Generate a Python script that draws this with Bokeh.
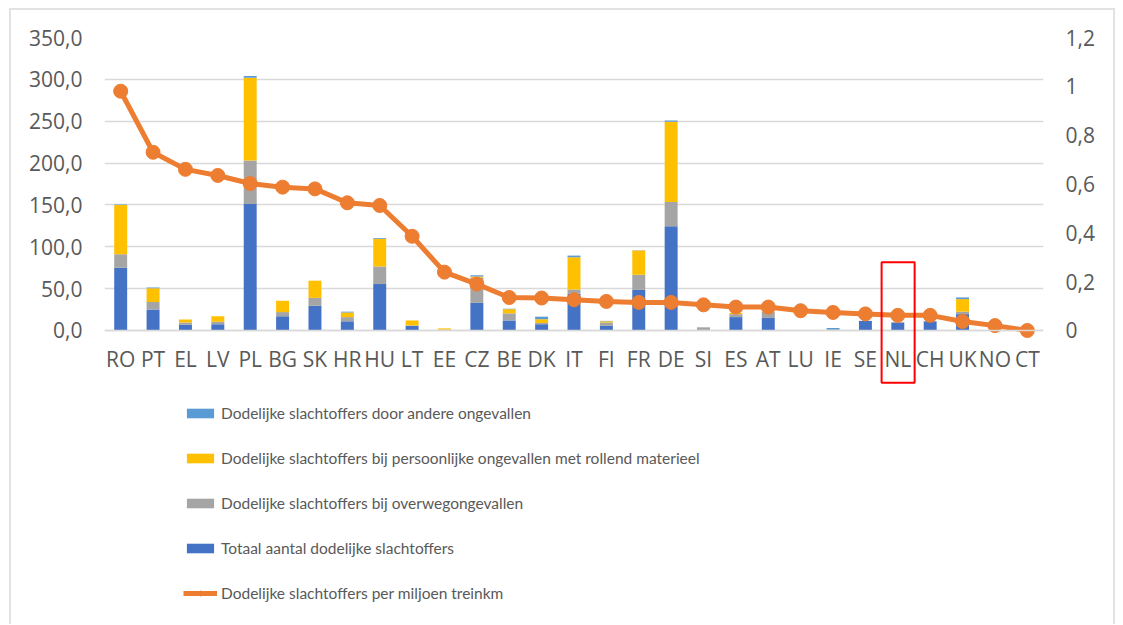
from bokeh.plotting import figure
from bokeh.models import (Range1d, LinearAxis, CategoricalAxis, FixedTicker, Legend,
                          LegendItem, BoxAnnotation, ColumnDataSource)
from bokeh.embed import file_html
from bokeh.resources import INLINE

countries = ["RO", "PT", "EL", "LV", "PL", "BG", "SK", "HR", "HU", "LT", "EE", "CZ",
             "BE", "DK", "IT", "FI", "FR", "DE", "SI", "ES", "AT", "LU", "IE", "SE",
             "NL", "CH", "UK", "NO", "CT"]
totaal = [75, 25, 7, 7.5, 151, 17, 29.5, 11, 55.5, 5.5, 0, 33,
          12, 7.5, 44, 5.5, 48.5, 124.5, 0.3, 16, 15, 0.3, 0, 11.5,
          9.5, 11, 19.5, 0, 0]
overweg = [16, 9, 2.5, 3, 52, 5, 9.5, 5, 21, 0.5, 1, 30,
           8.5, 1.5, 5, 4, 18, 29, 3.5, 3.5, 7.5, 0, 0.5, 0,
           0.5, 0, 3, 0, 0]
persoonlijk = [59, 16.5, 3.5, 6.5, 99, 13.5, 20.5, 5.5, 33, 6, 1.5, 1.5,
               5, 4.5, 38.5, 1.5, 29, 96, 0, 1.5, 0, 0, 0.5, 0,
               0, 0, 15, 0, 0]
andere = [0.5, 1, 0, 0, 2, 0, 0, 1, 1, 0, 0, 1.5,
          0.5, 3, 2, 0.5, 0.5, 1.5, 0, 0, 0, 0, 2, 0,
          0, 0, 2, 0, 0]
per_miljoen = [0.98, 0.73, 0.66, 0.635, 0.602, 0.587, 0.58, 0.523, 0.512, 0.386, 0.239, 0.19,
               0.135, 0.133, 0.126, 0.119, 0.115, 0.115, 0.105, 0.096, 0.096, 0.081, 0.074, 0.068,
               0.062, 0.062, 0.037, 0.02, 0.0]

left_ticks = [0, 50, 100, 150, 200, 250, 300, 350]
left_tick_labels = ["0,0", "50,0", "100,0", "150,0", "200,0", "250,0", "300,0", "350,0"]
right_ticks = [0, 0.2, 0.4, 0.6, 0.8, 1.0, 1.2]
right_tick_labels = ["0", "0,2", "0,4", "0,6", "0,8", "1", "1,2"]

series_names = ["Totaal aantal dodelijke slachtoffers",
                "Dodelijke slachtoffers bij overwegongevallen",
                "Dodelijke slachtoffers bij persoonlijke ongevallen met rollend materieel",
                "Dodelijke slachtoffers door andere ongevallen"]
line_name = "Dodelijke slachtoffers per miljoen treinkm"
highlight = "NL"

colors = ["#4472C4", "#A5A5A5", "#FFC000", "#5B9BD5"]
orange = "#ED7D31"
text_color = "#595959"
grid_color = "#d9d9d9"

# layout (screen pixels)
W, H = 1106, 616
FRAME_TOP, ZERO_Y, FRAME_BOTTOM = 37, 329, 8 + H
px_per_unit = (ZERO_Y - FRAME_TOP) / 350.0
y_min = -(FRAME_BOTTOM - ZERO_Y) / px_per_unit
r_scale = 1.2 / 350.0

src = ColumnDataSource(dict(country=countries, totaal=totaal, overweg=overweg,
                            persoonlijk=persoonlijk, andere=andere, rate=per_miljoen))

p = figure(x_range=countries, y_range=Range1d(y_min, 350), width=W, height=H,
           output_backend="svg", toolbar_location=None, x_axis_location=None,
           min_border_left=93, min_border_right=74, min_border_top=27, min_border_bottom=0)
p.extra_y_ranges = {"rate": Range1d(y_min * r_scale, 1.2)}
p.outline_line_color = None
p.styles = {"margin-left": "9px", "margin-top": "8px",
            "border-top": "2px solid #e2e2e2", "border-left": "2px solid #e2e2e2",
            "border-right": "2px solid #e2e2e2"}

bars = p.vbar_stack(["totaal", "overweg", "persoonlijk", "andere"], x="country", width=0.4,
                    color=colors, line_color=None, source=src)
ln = p.line(x="country", y="rate", y_range_name="rate", color=orange, line_width=5, source=src)
sc = p.scatter(x="country", y="rate", y_range_name="rate", color=orange, size=14, source=src)

# axes
p.yaxis.ticker = FixedTicker(ticks=left_ticks)
p.yaxis.major_label_overrides = dict(zip(left_ticks, left_tick_labels))
ra = LinearAxis(y_range_name="rate", ticker=FixedTicker(ticks=right_ticks),
                major_label_overrides=dict(zip(right_ticks, right_tick_labels)))
p.add_layout(ra, "right")
for ax in [p.yaxis[0], ra]:
    ax.axis_line_color = None
    ax.major_tick_line_color = None
    ax.minor_tick_line_color = None
    ax.major_tick_out = 0
    ax.major_tick_in = 0
    ax.major_label_text_font = "Open Sans"
    ax.major_label_text_font_size = "21px"
    ax.major_label_text_color = text_color
    ax.major_label_standoff = 22

xa = CategoricalAxis(fixed_location=0)
xa.axis_line_color = grid_color
xa.axis_line_width = 1.5
xa.major_tick_line_color = None
xa.minor_tick_line_color = None
xa.major_tick_out = 0
xa.major_tick_in = 0
xa.major_label_text_font = "Open Sans"
xa.major_label_text_font_size = "21px"
xa.major_label_text_color = text_color
xa.major_label_standoff = 15
p.add_layout(xa, "below")

p.xgrid.visible = False
p.ygrid.ticker = FixedTicker(ticks=left_ticks)
p.ygrid.grid_line_color = grid_color
p.ygrid.grid_line_width = 1.5

# highlight box around NL
i = countries.index(highlight)
p.add_layout(BoxAnnotation(left=i + 0.0, right=i + 1.02,
                           bottom=-(381 - ZERO_Y) / px_per_unit,
                           top=(ZERO_Y - 261) / px_per_unit,
                           fill_alpha=0, line_color="#FF0000", line_alpha=1, line_width=2))

items = [LegendItem(label=series_names[3], renderers=[bars[3]]),
         LegendItem(label=series_names[2], renderers=[bars[2]]),
         LegendItem(label=series_names[1], renderers=[bars[1]]),
         LegendItem(label=series_names[0], renderers=[bars[0]]),
         LegendItem(label=line_name, renderers=[ln, sc])]
legend = Legend(items=items, location=(79, FRAME_BOTTOM - 601), orientation="vertical",
                glyph_width=34, glyph_height=12, label_height=20, spacing=25,
                padding=0, margin=0, border_line_color=None, background_fill_alpha=0,
                label_text_font="Lato", label_text_font_size="15.5px",
                label_text_color=text_color, label_standoff=4)
p.add_layout(legend, "center")

open("out.html", "w").write(file_html(p, INLINE))
